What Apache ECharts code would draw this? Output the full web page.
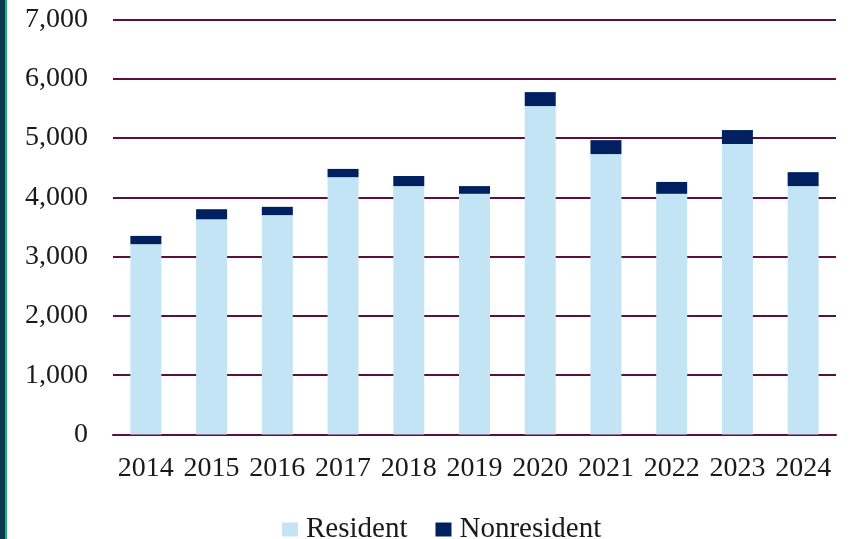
<!DOCTYPE html>
<html>
<head>
<meta charset="utf-8">
<script src="https://cdn.jsdelivr.net/npm/echarts@6/dist/echarts.min.js"></script>
<style>
  html, body { margin: 0; padding: 0; background: #fff; }
  #wrap { position: absolute; left: 0; top: 0; width: 852px; height: 539px; }
  #edge1 { position: absolute; left: 0; top: 0; width: 5px; height: 539px; background: #0b3a4d; }
  #edge2 { position: absolute; left: 5px; top: 0; width: 2px; height: 539px; background: #1cb36c; }
  #chart { position: absolute; left: 0; top: 0; width: 852px; height: 539px; }
</style>
</head>
<body>
<div id="wrap">
  <div id="chart"></div>
  <div id="edge1"></div>
  <div id="edge2"></div>
</div>
<script>
// 年份
var years = ["2014", "2015", "2016", "2017", "2018", "2019", "2020", "2021", "2022", "2023", "2024"];
// 居民 / 非居民
var resident = [3210, 3630, 3700, 4340, 4190, 4060, 5540, 4730, 4060, 4900, 4190];
var nonresident = [140, 170, 140, 140, 170, 130, 235, 235, 200, 235, 235];

var chart = echarts.init(document.getElementById("chart"));

var font = "'Liberation Serif', 'Times New Roman', serif";

var option = {
  animation: false,
  textStyle: { fontFamily: font },
  grid: {
    left: 113,
    right: 16,
    top: 19.5,
    bottom: 104.5,
  },
  legend: {
    data: ["Resident", "Nonresident"],
    top: 510,
    left: 277,
    icon: "rect",
    itemWidth: 16,
    itemHeight: 14,
    itemGap: 28,
    textStyle: { fontFamily: font, fontSize: 29, color: "#1a1a1a", padding: [0, 0, 0, 3] },
  },
  xAxis: {
    type: "category",
    data: years,
    axisTick: { show: false },
    axisLine: { lineStyle: { color: "#5c0e3e", width: 2 } },
    axisLabel: { interval: 0, fontFamily: font, fontSize: 28, color: "#1a1a1a", margin: 20 },
  },
  yAxis: {
    type: "value",
    min: 0,
    max: 7000,
    interval: 1000,
    axisLabel: {
      fontFamily: font,
      fontSize: 28,
      color: "#1a1a1a",
      margin: 25,
      formatter: function (v) {
        return v.toLocaleString("en-US");
      },
    },
    splitLine: { lineStyle: { color: "#5c0e3e", width: 2 } },
  },
  series: [
    {
      name: "Resident",
      type: "bar",
      stack: "total",
      barWidth: 31,
      itemStyle: { color: "#c3e4f4" },
      data: resident,
    },
    {
      name: "Nonresident",
      type: "bar",
      stack: "total",
      barWidth: 31,
      itemStyle: { color: "#002060" },
      data: nonresident,
    },
  ],
};

chart.setOption(option);

window.addEventListener("resize", function () {
  chart.resize();
});
</script>
</body>
</html>
